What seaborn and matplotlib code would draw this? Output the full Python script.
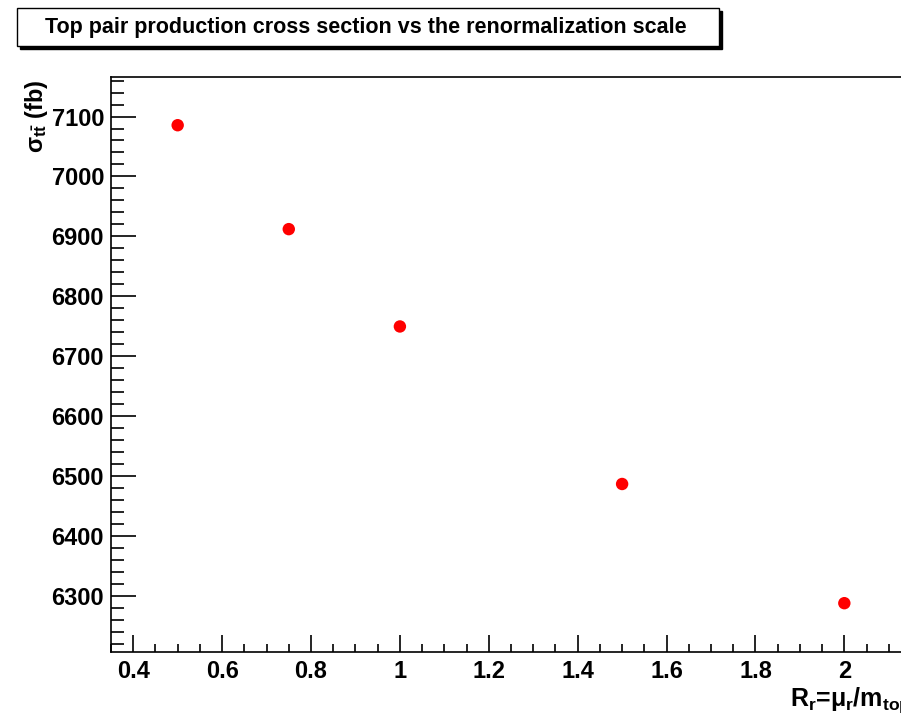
import matplotlib
matplotlib.use("Agg")
import matplotlib.pyplot as plt
import seaborn as sns
import pandas as pd
from matplotlib.patches import Rectangle
from matplotlib.ticker import MultipleLocator

# ---- data ----
scale_ratio = [0.5, 0.75, 1.0, 1.5, 2.0]
cross_section = [7085.5, 6912.0, 6749.5, 6486.5, 6287.5]
x_ticks = [0.4, 0.6, 0.8, 1.0, 1.2, 1.4, 1.6, 1.8, 2.0]
x_tick_labels = ["0.4", "0.6", "0.8", "1", "1.2", "1.4", "1.6", "1.8", "2"]
y_ticks = [6300, 6400, 6500, 6600, 6700, 6800, 6900, 7000, 7100]
title = "Top pair production cross section vs the renormalization scale"

sns.set_style("white")
plt.rcParams["font.family"] = ["Liberation Sans", "DejaVu Sans"]
plt.rcParams["font.weight"] = "bold"
plt.rcParams["text.color"] = "black"
plt.rcParams["xtick.color"] = "black"
plt.rcParams["ytick.color"] = "black"
plt.rcParams["mathtext.fontset"] = "custom"
plt.rcParams["mathtext.rm"] = "Liberation Sans:bold"
plt.rcParams["mathtext.it"] = "Liberation Sans:bold"
plt.rcParams["mathtext.bf"] = "Liberation Sans:bold"

df = pd.DataFrame({"R": scale_ratio, "sigma": cross_section})

W, H = 901, 715
fig = plt.figure(figsize=(W / 100, H / 100), dpi=100)
ax = fig.add_axes([111 / W, 1 - 652 / H, 800 / W, (652 - 77) / H])

sns.scatterplot(data=df, x="R", y="sigma", ax=ax, color="red", s=80,
                edgecolor="none", zorder=3, legend=False)

ax.set_xlim(0.35, 2.15)
ax.set_ylim(6206, 7166)
ax.set_xticks(x_ticks)
ax.set_xticklabels(x_tick_labels)
ax.set_yticks(y_ticks)
ax.xaxis.set_minor_locator(MultipleLocator(0.05))
ax.yaxis.set_minor_locator(MultipleLocator(20))
ax.set_xlabel("")
ax.set_ylabel("")

for s in ax.spines.values():
    s.set_linewidth(1.2)
    s.set_color("black")

ax.tick_params(axis="y", which="major", direction="in", length=18, width=1.2,
               labelsize=17, pad=5, left=True, right=False, colors="black")
ax.tick_params(axis="y", which="minor", direction="in", length=9, width=1.2,
               left=True, right=False, colors="black")
ax.tick_params(axis="x", which="major", direction="in", length=12, width=1.2,
               labelsize=17, pad=6, bottom=True, top=False, colors="black")
ax.tick_params(axis="x", which="minor", direction="in", length=6, width=1.2,
               bottom=True, top=False, colors="black")
for lab in ax.get_xticklabels() + ax.get_yticklabels():
    lab.set_fontweight("bold")
    lab.set_color("black")

# axis titles
fig.text(911 / W, 1 - 706 / H, r"$R_{r}$=$\mu_{r}$/m$_{top}$", ha="right",
         va="baseline", fontsize=18, fontweight="bold", color="black")
fig.text(37 / W, 1 - 80 / H, r"$\sigma_{t\bar{t}}$ (fb)", rotation=90,
         ha="center", va="top", fontsize=17, fontweight="bold", color="black")

# title box with shadow
bx0, by0, bx1, by1 = 17, 8, 719, 46
fig.patches.append(Rectangle(((bx0 + 3) / W, 1 - (by1 + 3) / H),
                             (bx1 - bx0) / W, (by1 - by0) / H,
                             transform=fig.transFigure, facecolor="black",
                             edgecolor="black", lw=1, zorder=1))
fig.patches.append(Rectangle((bx0 / W, 1 - by1 / H),
                             (bx1 - bx0) / W, (by1 - by0) / H,
                             transform=fig.transFigure, facecolor="white",
                             edgecolor="black", lw=1, zorder=2))
fig.text(366 / W, 1 - 27 / H, title, ha="center", va="center",
         fontsize=15.5, fontweight="bold", zorder=3, color="black")

fig.savefig("out.png", dpi=100)
